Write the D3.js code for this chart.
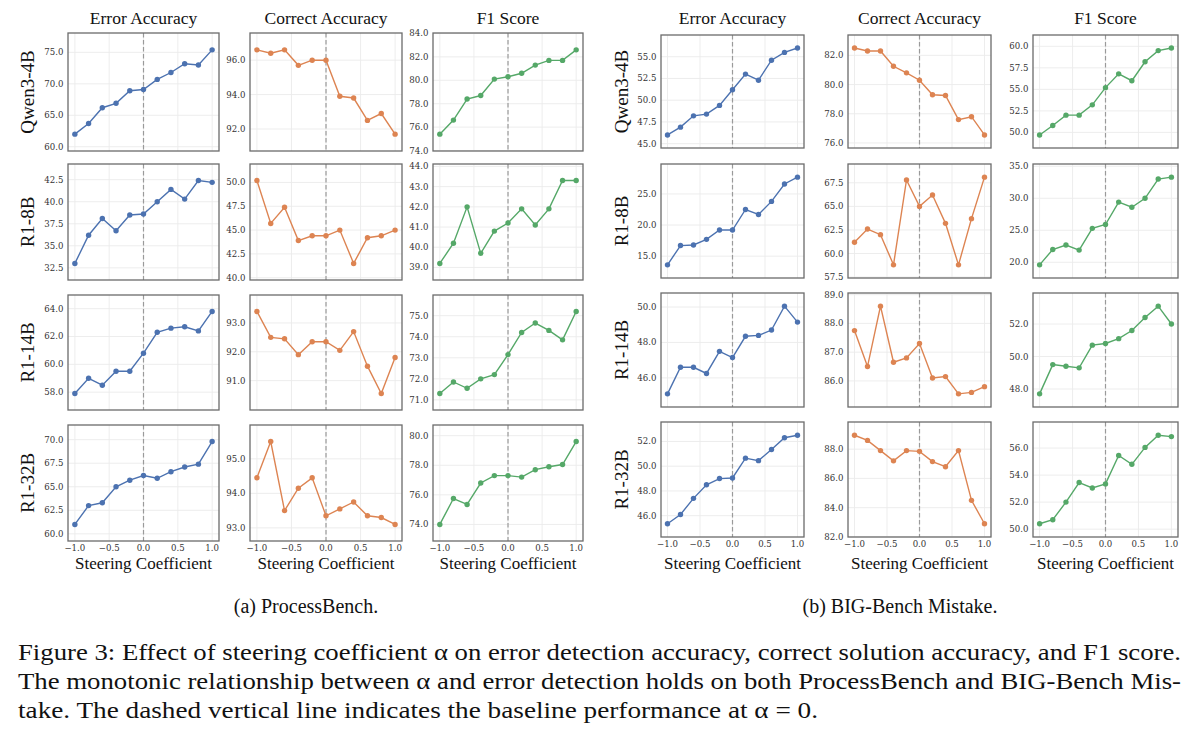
<!DOCTYPE html>
<html>
<head>
<meta charset="utf-8">
<script src="https://cdn.jsdelivr.net/npm/d3@7"></script>
<style>
  html, body { margin: 0; padding: 0; background: #fff; }
  svg { display: block; }
  .serif { font-family: "Liberation Serif", "DejaVu Serif", "Noto Serif", "Times New Roman", serif; }
  .tick { font-family: "DejaVu Serif", "Liberation Serif", serif; }
</style>
</head>
<body>
<svg id="chart" width="1200" height="734"></svg>
<script>
// ---------------- DATA ----------------
const xValues = [-1.0, -0.8, -0.6, -0.4, -0.2, 0.0, 0.2, 0.4, 0.6, 0.8, 1.0];
const xTickValues = [-1.0, -0.5, 0.0, 0.5, 1.0];
const metricTitles = ["Error Accuracy", "Correct Accuracy", "F1 Score"];
const modelNames = ["Qwen3-4B", "R1-8B", "R1-14B", "R1-32B"];
const benchmarkCaptions = ["(a) ProcessBench.", "(b) BIG-Bench Mistake."];
const xAxisLabel = "Steering Coefficient";
const figureCaption = [
  "Figure 3: Effect of steering coefficient \u03B1 on error detection accuracy, correct solution accuracy, and F1 score.",
  "The monotonic relationship between \u03B1 and error detection holds on both ProcessBench and BIG-Bench Mis-",
  "take. The dashed vertical line indicates the baseline performance at \u03B1 = 0."
];

// ProcessBench
const pbQwen4bErr  = [62.0, 63.7, 66.2, 66.9, 68.9, 69.1, 70.7, 71.8, 73.2, 73.0, 75.4];
const pbQwen4bCorr = [96.6, 96.4, 96.6, 95.7, 96.0, 96.0, 93.9, 93.8, 92.5, 92.9, 91.7];
const pbQwen4bF1   = [75.4, 76.6, 78.4, 78.7, 80.1, 80.3, 80.6, 81.3, 81.7, 81.7, 82.6];
const pbR1_8bErr   = [33.0, 36.2, 38.1, 36.7, 38.5, 38.6, 40.0, 41.4, 40.3, 42.4, 42.2];
const pbR1_8bCorr  = [50.2, 45.7, 47.4, 43.9, 44.4, 44.4, 45.0, 41.5, 44.2, 44.4, 45.0];
const pbR1_8bF1    = [39.2, 40.2, 42.0, 39.7, 40.8, 41.2, 41.9, 41.1, 41.9, 43.3, 43.3];
const pbR1_14bErr  = [57.9, 59.0, 58.5, 59.5, 59.5, 60.8, 62.3, 62.6, 62.7, 62.4, 63.8];
const pbR1_14bCorr = [93.4, 92.5, 92.45, 91.9, 92.35, 92.35, 92.05, 92.7, 91.5, 90.55, 91.8];
const pbR1_14bF1   = [71.3, 71.85, 71.55, 72.0, 72.2, 73.15, 74.2, 74.65, 74.3, 73.85, 75.2];
const pbR1_32bErr  = [61.0, 63.0, 63.3, 65.0, 65.7, 66.2, 65.9, 66.6, 67.1, 67.4, 69.8];
const pbR1_32bCorr = [94.45, 95.5, 93.5, 94.15, 94.45, 93.35, 93.55, 93.75, 93.35, 93.3, 93.1];
const pbR1_32bF1   = [74.0, 75.75, 75.35, 76.8, 77.3, 77.3, 77.2, 77.7, 77.9, 78.05, 79.6];

// BIG-Bench Mistake
const bbQwen4bErr  = [46.0, 46.9, 48.2, 48.4, 49.4, 51.2, 53.0, 52.3, 54.6, 55.5, 56.0];
const bbQwen4bCorr = [82.5, 82.3, 82.3, 81.25, 80.8, 80.3, 79.3, 79.25, 77.6, 77.8, 76.55];
const bbQwen4bF1   = [49.7, 50.8, 52.0, 52.0, 53.2, 55.2, 56.8, 56.0, 58.2, 59.5, 59.8];
const bbR1_8bErr   = [13.6, 16.7, 16.8, 17.7, 19.2, 19.2, 22.5, 21.7, 23.8, 26.6, 27.7];
const bbR1_8bCorr  = [61.2, 62.6, 62.0, 58.8, 67.8, 65.0, 66.2, 63.2, 58.8, 63.7, 68.1];
const bbR1_8bF1    = [19.6, 22.0, 22.7, 21.9, 25.3, 25.9, 29.4, 28.6, 30.0, 33.0, 33.3];
const bbR1_14bErr  = [45.1, 46.6, 46.6, 46.25, 47.5, 47.15, 48.35, 48.4, 48.7, 50.05, 49.15];
const bbR1_14bCorr = [87.75, 86.5, 88.6, 86.65, 86.8, 87.3, 86.1, 86.15, 85.55, 85.6, 85.8];
const bbR1_14bF1   = [47.7, 49.5, 49.4, 49.3, 50.7, 50.8, 51.1, 51.6, 52.4, 53.1, 52.0];
const bbR1_32bErr  = [45.35, 46.1, 47.4, 48.5, 49.0, 49.05, 50.65, 50.45, 51.35, 52.3, 52.5];
const bbR1_32bCorr = [88.95, 88.6, 87.9, 87.2, 87.9, 87.85, 87.15, 86.8, 87.9, 84.5, 82.9];
const bbR1_32bF1   = [50.4, 50.7, 52.0, 53.45, 53.05, 53.35, 55.45, 54.8, 56.05, 56.95, 56.85];

// Y tick labels (rows: models, cols: metrics)
const pbYTicks = [
  [[60, 65, 70, 75], [92, 94, 96], [74, 76, 78, 80, 82, 84]],
  [[32.5, 35, 37.5, 40, 42.5], [40, 42.5, 45, 47.5, 50], [39, 40, 41, 42, 43, 44]],
  [[58, 60, 62, 64], [91, 92, 93], [71, 72, 73, 74, 75]],
  [[60, 62.5, 65, 67.5, 70], [93, 94, 95], [74, 76, 78, 80]]
];
const bbYTicks = [
  [[45, 47.5, 50, 52.5, 55], [76, 78, 80, 82], [50, 52.5, 55, 57.5, 60]],
  [[15, 20, 25], [57.5, 60, 62.5, 65, 67.5], [20, 25, 30, 35]],
  [[46, 48, 50], [86, 87, 88, 89], [48, 50, 52]],
  [[46, 48, 50, 52], [82, 84, 86, 88], [50, 52, 54, 56]]
];

// ---------------- TABLES ----------------
const pbSeries = [
  [pbQwen4bErr, pbQwen4bCorr, pbQwen4bF1],
  [pbR1_8bErr, pbR1_8bCorr, pbR1_8bF1],
  [pbR1_14bErr, pbR1_14bCorr, pbR1_14bF1],
  [pbR1_32bErr, pbR1_32bCorr, pbR1_32bF1]
];
const bbSeries = [
  [bbQwen4bErr, bbQwen4bCorr, bbQwen4bF1],
  [bbR1_8bErr, bbR1_8bCorr, bbR1_8bF1],
  [bbR1_14bErr, bbR1_14bCorr, bbR1_14bF1],
  [bbR1_32bErr, bbR1_32bCorr, bbR1_32bF1]
];

// ---------------- LAYOUT / STYLE ----------------
const colors = ["#4C72B0", "#DD8452", "#55A868"];
const halves = [
  {
    series: pbSeries, ticks: pbYTicks, caption: benchmarkCaptions[0], captionX: 306,
    cols: [[68, 219], [250, 402], [433, 583]],
    rows: [[33, 151], [164, 280], [295, 410], [425, 541]],
    labelX: 27, pad: 0.2
  },
  {
    series: bbSeries, ticks: bbYTicks, caption: benchmarkCaptions[1], captionX: 900,
    cols: [[661, 804], [848, 991], [1033, 1178]],
    rows: [[35, 148], [164, 278], [293, 407], [422, 537]],
    labelX: 621, pad: 0.15
  }
];

const svg = d3.select("#chart");
const fmt = d3.format(".1f");

halves.forEach(h => {
  metricTitles.forEach((t, c) => {
    const [x0, x1] = h.cols[c];
    svg.append("text").attr("class", "serif")
      .attr("x", (x0 + x1) / 2).attr("y", 24)
      .attr("text-anchor", "middle")
      .attr("font-size", 17.5)
      .attr("fill", "#111")
      .text(t);
    svg.append("text").attr("class", "serif")
      .attr("x", (x0 + x1) / 2).attr("y", 569)
      .attr("text-anchor", "middle")
      .attr("font-size", 17)
      .attr("fill", "#111")
      .text(xAxisLabel);
  });

  modelNames.forEach((m, r) => {
    const [y0, y1] = h.rows[r];
    const cy = (y0 + y1) / 2;
    svg.append("text").attr("class", "serif")
      .attr("transform", `translate(${h.labelX},${cy}) rotate(-90)`)
      .attr("text-anchor", "middle")
      .attr("dy", "0.35em")
      .attr("font-size", 19)
      .attr("fill", "#111")
      .text(m);
  });

  h.series.forEach((rowSeries, r) => {
    rowSeries.forEach((vals, c) => {
      const [x0, x1] = h.cols[c];
      const [y0, y1] = h.rows[r];
      const ext = d3.extent(vals);
      const span = ext[1] - ext[0];
      const x = d3.scaleLinear().domain([-1.1, 1.1]).range([x0, x1]);
      const y = d3.scaleLinear().domain([ext[0] - h.pad * span, ext[1] + h.pad * span]).range([y1, y0]);
      const yt = h.ticks[r][c].filter(v => v >= y.domain()[0] - 1e-6 && v <= y.domain()[1] + 1e-6);
      const g = svg.append("g");

      g.append("rect").attr("x", x0).attr("y", y0).attr("width", x1 - x0).attr("height", y1 - y0)
        .attr("fill", "#fff");

      g.selectAll("line.gy").data(yt).enter().append("line")
        .attr("x1", x0).attr("x2", x1)
        .attr("y1", d => y(d)).attr("y2", d => y(d))
        .attr("stroke", "#ebebeb").attr("stroke-width", 0.9);
      g.selectAll("line.gx").data(xTickValues).enter().append("line")
        .attr("y1", y0).attr("y2", y1)
        .attr("x1", d => x(d)).attr("x2", d => x(d))
        .attr("stroke", "#ebebeb").attr("stroke-width", 0.9);

      g.append("line")
        .attr("x1", x(0)).attr("x2", x(0)).attr("y1", y0).attr("y2", y1)
        .attr("stroke", "#9a9a9a").attr("stroke-width", 1.2)
        .attr("stroke-dasharray", "4.5,2.5");

      g.selectAll("text.yt").data(yt).enter().append("text").attr("class", "tick")
        .attr("x", x0 - 4.5).attr("y", d => y(d))
        .attr("dy", "0.35em")
        .attr("text-anchor", "end")
        .attr("font-size", 8.6)
        .attr("fill", "#333")
        .text(d => fmt(d));

      if (r === modelNames.length - 1) {
        g.selectAll("text.xt").data(xTickValues).enter().append("text").attr("class", "tick")
          .attr("x", d => x(d)).attr("y", y1 + 10)
          .attr("text-anchor", "middle")
          .attr("font-size", 8.6)
          .attr("fill", "#333")
          .text(d => fmt(d));
      }

      const pts = xValues.map((xv, i) => [xv, vals[i]]);
      g.append("path")
        .attr("d", d3.line().x(d => x(d[0])).y(d => y(d[1]))(pts))
        .attr("fill", "none").attr("stroke", colors[c]).attr("stroke-width", 1.4);
      g.selectAll("circle").data(pts).enter().append("circle")
        .attr("cx", d => x(d[0])).attr("cy", d => y(d[1])).attr("r", 2.7)
        .attr("fill", colors[c]);

      g.append("rect").attr("x", x0).attr("y", y0).attr("width", x1 - x0).attr("height", y1 - y0)
        .attr("fill", "none").attr("stroke", "#6b6b6b").attr("stroke-width", 1.3);
    });
  });

  svg.append("text").attr("class", "serif")
    .attr("x", h.captionX).attr("y", 613)
    .attr("text-anchor", "middle")
    .attr("font-size", 20)
    .attr("fill", "#111")
    .text(h.caption);
});

const capLines = [
  { t: figureCaption[0], y: 660, w: 1163 },
  { t: figureCaption[1], y: 689, w: 1163 },
  { t: figureCaption[2], y: 718, w: 800 }
];
capLines.forEach(l => {
  svg.append("text").attr("class", "serif")
    .attr("x", 18).attr("y", l.y)
    .attr("font-size", 22.5)
    .attr("fill", "#111")
    .attr("textLength", l.w).attr("lengthAdjust", "spacingAndGlyphs")
    .text(l.t);
});
</script>
</body>
</html>
